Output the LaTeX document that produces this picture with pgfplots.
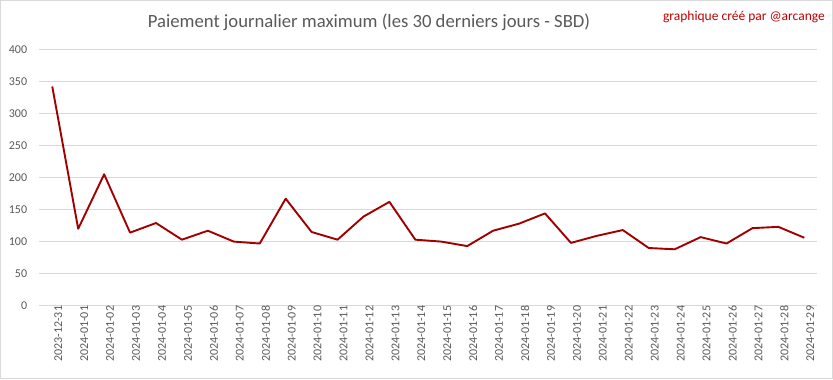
\documentclass[border=0pt]{standalone}
\usepackage{fontspec}
\setmainfont{Carlito}
\usepackage{pgfplots}
\pgfplotsset{compat=1.18}
\definecolor{linered}{HTML}{A00000}
\definecolor{txtgray}{HTML}{595959}
\definecolor{gridgray}{HTML}{D9D9D9}
\definecolor{annred}{HTML}{C00000}
\begin{document}
\begin{tikzpicture}[x=1bp,y=1bp]
\useasboundingbox (0,0) rectangle (833,379);
\draw[gridgray, line width=1bp] (0.5,0.5) rectangle (832.5,378.5);
\node[text=txtgray, font=\fontsize{18.67bp}{22bp}\selectfont] at (369,357) {Paiement journalier maximum (les 30 derniers jours - SBD)};
\node[text=annred, font=\fontsize{13.5bp}{16bp}\selectfont, anchor=east, inner sep=0pt] at (825,362) {graphique créé par @arcange};
\begin{axis}[
  at={(39.3bp,73.3bp)}, anchor=south west,
  scale only axis, width=778bp, height=256.4bp,
  xmin=-0.5, xmax=29.5, ymin=0, ymax=400,
  ytick={0,50,...,400},
  xtick={0,...,29},
  xticklabels={2023-12-31,2024-01-01,2024-01-02,2024-01-03,2024-01-04,2024-01-05,2024-01-06,2024-01-07,2024-01-08,2024-01-09,2024-01-10,2024-01-11,2024-01-12,2024-01-13,2024-01-14,2024-01-15,2024-01-16,2024-01-17,2024-01-18,2024-01-19,2024-01-20,2024-01-21,2024-01-22,2024-01-23,2024-01-24,2024-01-25,2024-01-26,2024-01-27,2024-01-28,2024-01-29},
  x tick label style={rotate=90, anchor=east, inner sep=0pt, yshift=-6bp, font=\fontsize{12bp}{14bp}\selectfont, text=txtgray},
  y tick label style={anchor=east, inner sep=0pt, xshift=-12bp, font=\fontsize{12bp}{14bp}\selectfont, text=txtgray},
  ymajorgrids, grid style={gridgray, line width=1bp},
  axis line style={draw=none},
  major tick length=0pt,
  /pgf/number format/assume math mode=true,
  clip=false
]
\addplot[linered, line width=1.9bp, line join=round] coordinates {
(0,342) (1,120) (2,205) (3,114) (4,129) (5,103) (6,117) (7,100) (8,97) (9,167)
(10,115) (11,103) (12,139) (13,162) (14,103) (15,100) (16,93) (17,117) (18,128) (19,144)
(20,98) (21,109) (22,118) (23,90) (24,88) (25,107) (26,97) (27,121) (28,123) (29,106)
};
\end{axis}
\end{tikzpicture}
\end{document}
